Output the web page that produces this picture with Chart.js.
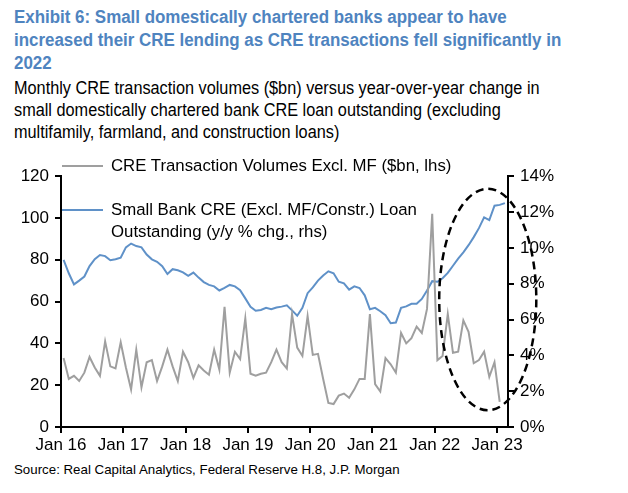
<!DOCTYPE html>
<html>
<head>
<meta charset="utf-8">
<script src="https://cdn.jsdelivr.net/npm/chart.js@4.4.0/dist/chart.umd.min.js"></script>
<style>
body{margin:0;background:#fff;width:628px;height:493px;position:relative;overflow:hidden;
  font-family:'Liberation Sans',Arial,sans-serif;}
#title{position:absolute;left:14px;top:6px;color:#4f84bf;font-weight:bold;font-size:18px;line-height:23px;
  white-space:nowrap;transform:scaleX(0.94);transform-origin:0 0;}
#sub{position:absolute;left:14px;top:77px;font-size:17.5px;line-height:22px;color:#000;
  white-space:nowrap;transform:scaleX(0.93);transform-origin:0 0;}
#wrap{position:absolute;left:0;top:160px;width:628px;height:300px;}
.leg{position:absolute;font-size:16.8px;line-height:22px;color:#000;white-space:nowrap;}
.sw{position:absolute;height:2px;width:41px;}
#src{position:absolute;left:14px;top:462px;font-size:13.3px;color:#000;white-space:nowrap;}
</style>
</head>
<body>
<div id="title">Exhibit 6: Small domestically chartered banks appear to have<br>increased their CRE lending as CRE transactions fell significantly in<br>2022</div>
<div id="sub">Monthly CRE transaction volumes ($bn) versus year-over-year change in<br>small domestically chartered bank CRE loan outstanding (excluding<br>multifamily, farmland, and construction loans)</div>
<div id="wrap"><canvas id="chart"></canvas></div>
<div class="sw" style="left:62px;top:165px;background:#9f9f9f"></div>
<div class="leg" style="left:111px;top:155px">CRE Transaction Volumes Excl. MF ($bn, lhs)</div>
<div class="sw" style="left:62px;top:209px;background:#5f91c8"></div>
<div class="leg" style="left:111px;top:199px">Small Bank CRE (Excl. MF/Constr.) Loan<br>Outstanding (y/y % chg., rhs)</div>
<div id="src">Source: Real Capital Analytics, Federal Reserve H.8, J.P. Morgan</div>

<script>
// x tick labels, one per January
const yearLabels = ['Jan 16', 'Jan 17', 'Jan 18', 'Jan 19', 'Jan 20', 'Jan 21', 'Jan 22', 'Jan 23'];

// monthly CRE transaction volumes, $bn (Jan 16 .. Jan 23)
const volumes = [
  33, 23, 24.5, 22, 26, 33.5, 28.5, 24.5, 41, 29, 28, 40.5,
  28.5, 18, 37, 19, 31, 32, 22, 29, 37, 29, 22, 36,
  31, 23.5, 29.5, 27, 25, 37, 27.5, 57.5, 26, 36, 32.5, 52,
  25.5, 24.5, 25.5, 26, 31, 37, 31, 28, 54, 38, 34, 53,
  34.5, 35, 23, 11.5, 11, 15, 16, 14, 18, 23, 23, 54,
  20.5, 17, 33, 30, 26, 45, 40, 42.5, 48, 45, 56.5, 102,
  32, 34, 54, 35.5, 36, 51, 45.5, 30.5, 32, 36, 24, 31,
  12
];

// small bank CRE loans outstanding, y/y % change (Jan 16 .. Feb 23)
const loanGrowth = [
  9.33, 8.58, 7.96, 8.17, 8.4, 8.98, 9.37, 9.6, 9.54, 9.31, 9.36, 9.45,
  10.03, 10.24, 10.1, 10.03, 9.63, 9.36, 9.22, 8.98, 8.54, 8.81, 8.75, 8.63,
  8.44, 8.62, 8.34, 8.09, 7.93, 7.85, 7.62, 7.76, 7.93, 7.85, 7.64, 7.18,
  6.71, 6.49, 6.53, 6.65, 6.57, 6.67, 6.72, 6.79, 6.51, 6.21, 6.65, 7.47,
  7.79, 8.17, 8.46, 8.69, 8.58, 8.11, 8.02, 7.67, 7.85, 7.76, 7.35, 6.57,
  6.65, 6.46, 6.24, 5.79, 5.83, 6.65, 6.73, 6.88, 6.88, 7.15, 7.62, 8.14,
  8.11, 8.3, 8.6, 9.0, 9.4, 9.75, 10.15, 10.6, 11.1, 11.7, 11.55, 12.35,
  12.4, 12.5
];

const monthPts = arr => arr.map((v, i) => ({x: i + 0.5, y: v}));

Chart.defaults.font.family = "'Liberation Sans',Arial,sans-serif";
Chart.defaults.font.size = 17;
Chart.defaults.color = '#000';

// dashed ring around 2022, placed in data units
const ringPlugin = {
  id: 'ring',
  afterDatasetsDraw(chart) {
    const xs = chart.scales.x, ys = chart.scales.y;
    const cx = xs.getPixelForValue(82.2), cy = ys.getPixelForValue(61);
    const rx = xs.getPixelForValue(82.2 + 9.35) - cx;
    const ry = cy - ys.getPixelForValue(61 + 53);
    const ctx = chart.ctx;
    ctx.save();
    ctx.beginPath();
    ctx.setLineDash([8, 5]);
    ctx.lineWidth = 2.5;
    ctx.strokeStyle = '#000';
    ctx.ellipse(cx, cy, rx, ry, 0, 0, Math.PI * 2);
    ctx.stroke();
    ctx.restore();
  }
};

const axisGrid = {drawOnChartArea: false, drawTicks: true, tickLength: 6, color: '#000', lineWidth: 2};

new Chart(document.getElementById('chart'), {
  type: 'line',
  data: {
    datasets: [{
      label: 'CRE Transaction Volumes Excl. MF ($bn, lhs)',
      data: monthPts(volumes),
      borderColor: '#9f9f9f',
      borderWidth: 2,
      pointRadius: 0,
      tension: 0,
      yAxisID: 'y'
    }, {
      label: 'Small Bank CRE (Excl. MF/Constr.) Loan Outstanding (y/y % chg., rhs)',
      data: monthPts(loanGrowth),
      borderColor: '#5f91c8',
      borderWidth: 2,
      pointRadius: 0,
      tension: 0,
      yAxisID: 'y1'
    }]
  },
  options: {
    responsive: true,
    maintainAspectRatio: false,
    animation: false,
    layout: {padding: {top: 12, left: 0, right: 0, bottom: 0}},
    plugins: {legend: {display: false}, tooltip: {enabled: false}},
    scales: {
      x: {
        type: 'linear',
        min: 0,
        max: 86.1,
        afterBuildTicks: s => { s.ticks = yearLabels.map((_, i) => ({value: i * 12})); },
        afterFit: s => { s.height = 33; },
        ticks: {
          autoSkip: false,
          maxRotation: 0,
          padding: 2,
          callback: v => yearLabels[v / 12]
        },
        grid: axisGrid,
        border: {color: '#000', width: 2}
      },
      y: {
        position: 'left',
        min: 0,
        max: 120,
        afterFit: s => { s.width = 61; },
        ticks: {stepSize: 20, padding: 6},
        grid: axisGrid,
        border: {color: '#000', width: 2}
      },
      y1: {
        position: 'right',
        min: 0,
        max: 14,
        afterFit: s => { s.width = 120; },
        ticks: {stepSize: 2, padding: 6, callback: v => v + '%'},
        grid: axisGrid,
        border: {color: '#000', width: 2}
      }
    }
  },
  plugins: [ringPlugin]
});
</script>
</body>
</html>
